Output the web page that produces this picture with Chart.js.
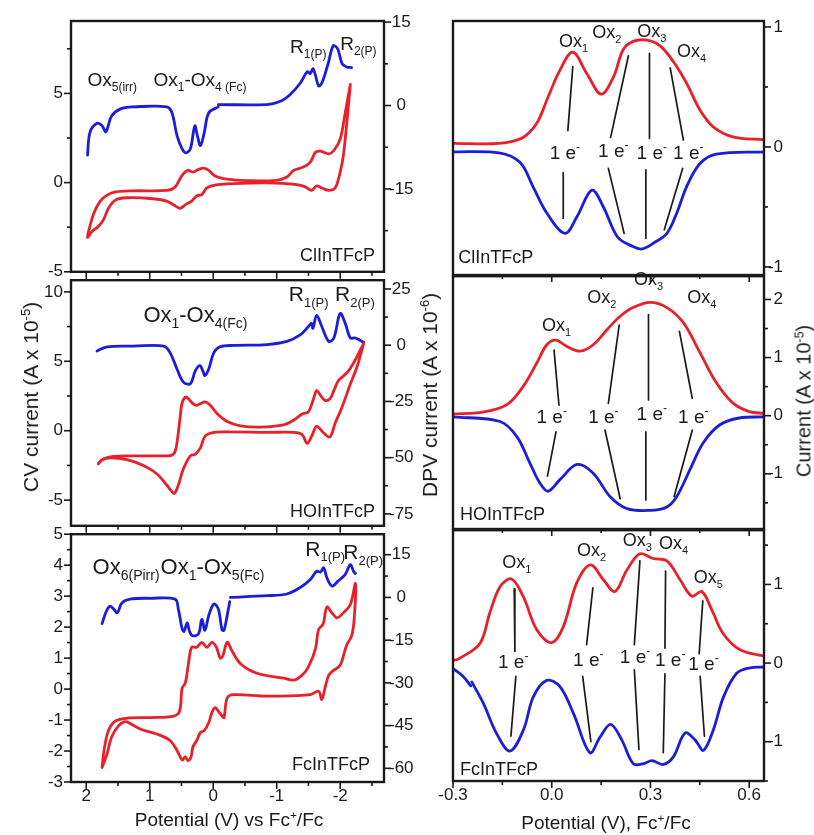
<!DOCTYPE html>
<html>
<head>
<meta charset="utf-8">
<script src="https://cdn.jsdelivr.net/npm/chart.js@4.4.0/dist/chart.umd.min.js"></script>
<style>
  body { margin: 0; background: #fff; }
  #fig { position: relative; width: 814px; height: 835px; overflow: hidden;
         font-family: 'Liberation Sans', Arial, sans-serif; color: #1a1a1a; }
  #fig canvas { position: absolute; }
  .title { position: absolute; white-space: nowrap; font-size: 21px; transform: translate(-50%, -50%); }
  .title.v { transform: translate(-50%, -50%) rotate(-90deg); }
  .title sup { font-size: 0.62em; vertical-align: 0.6em; line-height: 0; }
</style>
</head>
<body>
<div id="fig">
  <canvas id="cv1" width="432" height="290" style="left:0;top:0"></canvas>
  <canvas id="cv2" width="432" height="282" style="left:0;top:262px"></canvas>
  <canvas id="cv3" width="432" height="319" style="left:0;top:516px"></canvas>
  <canvas id="dp1" width="384" height="290" style="left:430px;top:0"></canvas>
  <canvas id="dp2" width="384" height="282" style="left:430px;top:262px"></canvas>
  <canvas id="dp3" width="384" height="319" style="left:430px;top:516px"></canvas>
  <div class="title v" style="left:31px;top:397px">CV current (A x 10<sup>-5</sup>)</div>
  <div class="title v" style="left:430px;top:395px">DPV current (A x 10<sup>-6</sup>)</div>
  <div class="title v" style="left:804px;top:401px;font-size:20px">Current (A x 10<sup>-5</sup>)</div>
  <div class="title" style="left:229px;top:820px;font-size:19px">Potential (V) vs Fc<sup>+</sup>/Fc</div>
  <div class="title" style="left:606px;top:823px;font-size:19px">Potential (V), Fc<sup>+</sup>/Fc</div>
</div>
<script>
/* Cyclic voltammetry (left) and DPV (right) for three porphyrins */

const FONT = "'Liberation Sans', Arial, sans-serif";
const RED  = '#e8202a';
const BLUE = '#1c1cdc';
const INK  = '#1a1a1a';

/* ── tick positions and labels ── */
const CV_X_TICKS  = [2, 1.5, 1, 0.5, 0, -0.5, -1, -1.5, -2, -2.5];
const CV_X_MAJOR  = [2, 1, 0, -1, -2];
const DPV_X_TICKS = [-0.3, -0.15, 0, 0.15, 0.3, 0.45, 0.6];
const DPV_X_MAJOR = [-0.3, 0, 0.3, 0.6];

const CL_CV_TICKS   = [-5, -2.5, 0, 2.5, 5, 7.5];
const CL_CV_MAJOR   = [-5, 0, 5];
const CL_DPVL_TICKS = [-22.5, -15, -7.5, 0, 7.5, 15];
const CL_DPVL_MAJOR = [-15, 0, 15];
const HO_CV_TICKS   = [-5, -2.5, 0, 2.5, 5, 7.5, 10];
const HO_CV_MAJOR   = [-5, 0, 5, 10];
const HO_DPVL_TICKS = [-75, -62.5, -50, -37.5, -25, -12.5, 0, 12.5, 25];
const HO_DPVL_MAJOR = [-75, -50, -25, 0, 25];
const FC_CV_TICKS   = [-3, -2.5, -2, -1.5, -1, -0.5, 0, 0.5, 1, 1.5, 2, 2.5, 3, 3.5, 4, 4.5, 5];
const FC_CV_MAJOR   = [-3, -2, -1, 0, 1, 2, 3, 4, 5];
const FC_DPVL_TICKS = [-60, -52.5, -45, -37.5, -30, -22.5, -15, -7.5, 0, 7.5, 15];
const FC_DPVL_MAJOR = [-60, -45, -30, -15, 0, 15];

const CL_DPV_TICKS = [-1, -0.5, 0, 0.5, 1];
const CL_DPV_MAJOR = [-1, 0, 1];
const HO_DPV_TICKS = [-1.5, -1, -0.5, 0, 0.5, 1, 1.5, 2];
const HO_DPV_MAJOR = [-1, 0, 1, 2];
const FC_DPV_TICKS = [-1.5, -1, -0.5, 0, 0.5, 1, 1.5];
const FC_DPV_MAJOR = [-1, 0, 1];

/* ── left column: [potential V, current] ── */
// ClInTFcP
const CL_CV = [[-2.16,5.5],[-2.10,3.19],[-2.05,1.52],[-2.00,0.59],[-1.92,-0.30],[-1.82,-0.43],[-1.71,-0.30],
  [-1.63,-0.19],[-1.55,-0.43],[-1.45,-0.24],[-1.32,-0.11],[-0.85,-0.02],[-0.32,-0.06],[-0.01,-0.15],[0.10,-0.30],
  [0.18,-0.67],[0.26,-0.74],[0.34,-1.04],[0.43,-1.22],[0.52,-1.44],[0.62,-1.26],[0.73,-1.04],[0.99,-0.89],
  [1.36,-0.85],[1.54,-0.98],[1.65,-1.44],[1.73,-2.09],[1.81,-2.46],[1.91,-2.74],[1.98,-3.07],[1.95,-2.56],
  [1.88,-1.72],[1.78,-1.04],[1.67,-0.70],[1.54,-0.52],[1.25,-0.46],[0.73,-0.44],[0.60,-0.24],[0.49,0.41],
  [0.40,0.69],[0.32,0.59],[0.23,0.74],[0.15,0.81],[0.07,0.69],[-0.03,0.37],[-0.22,0.19],[-0.53,0.11],
  [-1.00,0.13],[-1.16,0.31],[-1.27,0.69],[-1.42,0.87],[-1.53,1.15],[-1.61,1.70],[-1.69,1.76],[-1.82,1.61],
  [-1.90,1.80],[-2.00,2.44],[-2.08,3.93],[-2.16,5.5]];
const CL_DPV_OX = [[1.98,-8.9],[1.94,-4.8],[1.83,-3.2],[1.75,-3.65],[1.69,-4.7],[1.60,-1.9],[1.46,-0.6],
  [1.25,-0.24],[0.73,-0.24],[0.65,-1.3],[0.57,-5.4],[0.49,-7.8],[0.43,-8.5],[0.36,-7.8],[0.29,-3.65],
  [0.25,-5.4],[0.20,-7.2],[0.14,-4.8],[0.07,-1.3],[-0.08,-0.24]];
const CL_DPV_RED = [[-0.08,0.18],[-0.85,0.18],[-1.06,0.76],[-1.21,1.94],[-1.37,4.0],[-1.48,6.06],[-1.53,5.76],
  [-1.57,6.65],[-1.61,5.47],[-1.66,3.53],[-1.71,4.0],[-1.81,7.53],[-1.89,10.76],[-1.96,10.18],[-2.03,7.53],
  [-2.10,6.94],[-2.18,6.82]];

// HOInTFcP
const HO_CV = [[-2.37,6.29],[-2.24,5.12],[-2.13,4.30],[-2.05,3.94],[-1.97,3.59],[-1.90,2.89],[-1.84,2.30],
  [-1.76,2.18],[-1.69,2.54],[-1.63,2.89],[-1.58,2.30],[-1.50,1.36],[-1.40,1.20],[-1.27,0.77],[-1.11,0.42],
  [-0.74,0.26],[-0.43,0.35],[-0.22,0.66],[-0.06,1.24],[0.05,1.85],[0.13,2.07],[0.20,1.95],[0.26,1.83],
  [0.32,1.95],[0.40,2.35],[0.44,2.42],[0.49,2.0],[0.52,1.01],[0.56,-0.5],[0.60,-1.5],[0.66,-1.78],[0.83,-1.81],
  [1.25,-1.81],[1.57,-1.85],[1.73,-2.04],[1.81,-2.39],[1.75,-2.09],[1.62,-1.95],[1.36,-2.09],[1.10,-2.51],
  [0.89,-3.10],[0.73,-3.92],[0.65,-4.39],[0.61,-4.51],[0.55,-3.92],[0.47,-2.75],[0.36,-1.81],[0.28,-1.69],
  [0.20,-1.22],[0.13,-0.40],[0.02,-0.16],[-0.16,-0.09],[-0.85,-0.12],[-1.27,-0.12],[-1.40,-0.28],[-1.48,-0.92],
  [-1.55,-0.40],[-1.63,0.31],[-1.74,-0.16],[-1.84,-0.45],[-1.92,0.54],[-2.03,1.71],[-2.16,3.36],[-2.26,4.53],
  [-2.37,6.29]];
const HO_DPV = [[1.83,-2.6],[1.67,-0.7],[1.25,-0.4],[0.78,-0.4],[0.68,-3.3],[0.57,-10.6],[0.47,-16.4],
  [0.36,-17.1],[0.28,-11.3],[0.21,-9.1],[0.16,-11.7],[0.13,-13.5],[0.07,-10.6],[-0.01,-3.3],[-0.11,-0.7],
  [-0.32,-0.1],[-0.85,0.3],[-1.16,1.7],[-1.37,4.6],[-1.50,8.3],[-1.55,9.7],[-1.57,7.5],[-1.63,13.3],
  [-1.71,8.3],[-1.82,1.7],[-1.90,3.2],[-2.00,14.1],[-2.08,9.7],[-2.16,3.2],[-2.24,3.2],[-2.37,1.3]];

// FcInTFcP
const FC_CV = [[1.75,-2.53],[1.72,-1.98],[1.65,-1.34],[1.54,-1.03],[1.36,-0.94],[0.99,-0.92],[0.62,-0.87],
  [0.53,-0.71],[0.49,0.03],[0.44,0.19],[0.39,0.82],[0.34,1.35],[0.26,1.35],[0.18,1.51],[0.10,1.35],[0.02,1.51],
  [-0.05,1.35],[-0.11,1.00],[-0.15,1.07],[-0.22,1.51],[-0.29,1.25],[-0.43,0.82],[-0.69,0.51],[-1.11,0.35],
  [-1.27,0.29],[-1.40,0.45],[-1.50,0.72],[-1.61,1.30],[-1.66,1.93],[-1.73,2.09],[-1.79,2.65],[-1.87,2.46],
  [-1.95,2.30],[-2.05,2.46],[-2.16,2.73],[-2.24,3.41],[-2.22,2.25],[-2.18,1.72],[-2.10,1.41],[-2.00,0.77],
  [-1.90,0.61],[-1.82,0.45],[-1.76,0.03],[-1.71,-0.34],[-1.66,-0.07],[-1.53,-0.18],[-0.85,-0.23],[-0.32,-0.18],
  [-0.22,-0.29],[-0.17,-0.92],[-0.14,-0.87],[-0.08,-0.71],[-0.03,-0.60],[0.02,-0.76],[0.07,-1.08],[0.14,-1.34],
  [0.20,-1.40],[0.26,-1.66],[0.32,-1.87],[0.35,-2.19],[0.40,-2.31],[0.44,-2.19],[0.49,-2.29],[0.57,-1.98],
  [0.68,-1.66],[0.89,-1.45],[1.15,-1.29],[1.31,-1.11],[1.39,-1.05],[1.49,-1.18],[1.60,-1.55],[1.67,-2.08],
  [1.75,-2.53]];
const FC_DPV_OX = [[1.75,-9.2],[1.69,-5.2],[1.63,-3.1],[1.57,-4.0],[1.51,-5.4],[1.44,-2.0],[1.31,-0.6],
  [0.99,-0.3],[0.60,-0.6],[0.55,-4.0],[0.49,-11.0],[0.46,-11.9],[0.41,-8.9],[0.37,-12.1],[0.32,-13.5],
  [0.23,-12.7],[0.18,-7.7],[0.13,-11.5],[0.07,-6.3],[-0.01,-2.3],[-0.08,-4.0],[-0.14,-11.5],[-0.17,-11.5],
  [-0.22,-6.3],[-0.26,-1.5]];
const FC_DPV_RED = [[-0.27,0.0],[-0.85,0.6],[-1.16,1.2],[-1.37,3.5],[-1.53,6.3],[-1.63,9.2],[-1.69,8.9],
  [-1.74,10.4],[-1.79,6.9],[-1.87,4.0],[-1.97,5.8],[-2.08,8.1],[-2.16,11.5],[-2.21,9.2],[-2.24,8.4]];

/* ── right column DPV: [potential V, current x1e-5] ── */
const CL_FWD = [[-0.30,0.03],[-0.16,0.03],[-0.09,0.075],[-0.045,0.2],[-0.015,0.39],[0.025,0.64],[0.064,0.79],
  [0.107,0.61],[0.15,0.44],[0.187,0.58],[0.217,0.81],[0.247,0.88],[0.29,0.89],[0.33,0.84],[0.37,0.71],
  [0.41,0.53],[0.45,0.31],[0.49,0.17],[0.55,0.085],[0.645,0.06]];
const CL_REV = [[-0.30,-0.04],[-0.16,-0.05],[-0.096,-0.13],[-0.057,-0.33],[-0.015,-0.55],[0.04,-0.72],
  [0.077,-0.58],[0.122,-0.36],[0.157,-0.5],[0.2,-0.75],[0.247,-0.83],[0.274,-0.85],[0.31,-0.8],[0.35,-0.72],
  [0.38,-0.55],[0.41,-0.33],[0.45,-0.14],[0.5,-0.06],[0.645,-0.04]];
const HO_FWD = [[-0.30,0.03],[-0.21,0.06],[-0.136,0.19],[-0.087,0.5],[-0.045,0.91],[-0.015,1.22],[0.013,1.3],
  [0.046,1.19],[0.086,1.11],[0.126,1.22],[0.168,1.48],[0.208,1.71],[0.247,1.86],[0.299,1.95],[0.35,1.86],
  [0.4,1.6],[0.45,1.09],[0.5,0.57],[0.55,0.22],[0.6,0.07],[0.645,0.04]];
const HO_REV = [[-0.30,-0.02],[-0.157,-0.1],[-0.106,-0.36],[-0.066,-0.82],[-0.036,-1.16],[-0.011,-1.3],
  [0.025,-1.1],[0.077,-0.84],[0.126,-0.99],[0.177,-1.39],[0.229,-1.6],[0.299,-1.63],[0.35,-1.57],[0.38,-1.39],
  [0.42,-0.93],[0.46,-0.47],[0.51,-0.16],[0.57,-0.04],[0.645,-0.02]];
const FC_FWD = [[-0.30,0.03],[-0.28,0.06],[-0.218,0.25],[-0.188,0.64],[-0.157,0.97],[-0.122,1.07],[-0.087,0.85],
  [-0.045,0.42],[0.0,0.26],[0.035,0.46],[0.076,1.02],[0.118,1.25],[0.157,1.06],[0.192,0.91],[0.228,1.18],
  [0.268,1.39],[0.308,1.33],[0.35,1.3],[0.39,1.06],[0.426,0.85],[0.456,0.91],[0.486,0.68],[0.52,0.38],
  [0.572,0.17],[0.645,0.09]];
const FC_REV_A = [[-0.30,-0.07],[-0.269,-0.17],[-0.246,-0.29]];
const FC_REV_B = [[-0.243,-0.24],[-0.208,-0.51],[-0.167,-0.9],[-0.127,-1.12],[-0.086,-0.85],[-0.056,-0.43],
  [-0.015,-0.22],[0.025,-0.3],[0.066,-0.64],[0.116,-1.14],[0.147,-0.94],[0.179,-0.78],[0.213,-0.98],
  [0.248,-1.28],[0.279,-1.28],[0.304,-1.24],[0.339,-1.29],[0.37,-1.19],[0.405,-0.89],[0.436,-0.98],
  [0.461,-1.11],[0.491,-0.85],[0.522,-0.43],[0.562,-0.13],[0.603,-0.06],[0.645,-0.05]];

/* ── 1 e- guide sticks (pairs of end points) ── */
const CL_STICKS = [[[0.064,0.67],[0.049,0.136]],[[0.233,0.76],[0.179,0.08]],[[0.297,0.78],[0.297,0.072]],
  [[0.36,0.66],[0.40,0.058]],[[0.035,-0.214],[0.035,-0.594]],[[0.172,-0.178],[0.22,-0.72]],
  [[0.286,-0.19],[0.286,-0.76]],[[0.398,-0.178],[0.342,-0.69]]];
const HO_STICKS = [[[0.007,1.13],[0.022,0.18]],[[0.205,1.56],[0.172,0.21]],[[0.294,1.74],[0.294,0.27]],
  [[0.388,1.45],[0.427,0.30]],[[0.013,-0.28],[-0.013,-1.04]],[[0.162,-0.25],[0.208,-1.43]],
  [[0.286,-0.28],[0.286,-1.45]],[[0.427,-0.25],[0.372,-1.39]]];
const FC_STICKS = [[[-0.114,0.945],[-0.112,0.149]],[[0.125,0.957],[0.106,0.234]],[[0.268,1.30],[0.251,0.234]],
  [[0.346,1.17],[0.344,0.19]],[[0.459,0.79],[0.448,0.12]],[[-0.109,-0.17],[-0.124,-0.93]],
  [[0.094,-0.17],[0.119,-1.0]],[[0.251,-0.085],[0.265,-1.10]],[[0.344,-0.136],[0.339,-1.14]],
  [[0.451,-0.17],[0.464,-0.93]]];

/* ── helpers ── */
function drawRich(ctx, x, y, parts, size, align) {
  const segs = parts.map(([t, k]) => {
    const s = k === 'n' ? size : Math.round(size * 0.62);
    ctx.font = `${s}px ${FONT}`;
    return { t, k, s, w: ctx.measureText(t).width };
  });
  const total = segs.reduce((a, s) => a + s.w, 0);
  let cx = align === 'center' ? x - total / 2 : align === 'right' ? x - total : x;
  ctx.textAlign = 'left';
  ctx.textBaseline = 'alphabetic';
  segs.forEach(s => {
    ctx.font = `${s.s}px ${FONT}`;
    const dy = s.k === 'sub' ? size * 0.28 : s.k === 'sup' ? -size * 0.42 : 0;
    ctx.fillText(s.t, cx, y + dy);
    cx += s.w;
  });
}

const framePlugin = {
  id: 'frame',
  afterDatasetsDraw(chart, _args, opts) {
    const { ctx, chartArea: a } = chart;
    ctx.save();
    ctx.strokeStyle = INK;
    ctx.lineWidth = 1.6;
    Object.values(chart.scales).forEach(s => {
      const majors = opts.majors[s.id] || [];
      s.ticks.forEach(t => {
        const len = majors.includes(t.value) ? 7 : 4;
        const p = s.getPixelForValue(t.value);
        ctx.beginPath();
        if (s.isHorizontal()) { ctx.moveTo(p, a.bottom); ctx.lineTo(p, a.bottom + len); }
        else if (s.position === 'left') { ctx.moveTo(a.left, p); ctx.lineTo(a.left - len, p); }
        else { ctx.moveTo(a.right, p); ctx.lineTo(a.right + len, p); }
        ctx.stroke();
      });
    });
    ctx.lineWidth = 2.4;
    ctx.strokeRect(a.left, a.top, a.right - a.left, a.bottom - a.top);
    ctx.fillStyle = INK;
    const xs = chart.scales.x, ys = chart.scales.y;
    (opts.notes || []).forEach(n =>
      drawRich(ctx, xs.getPixelForValue(n.x), ys.getPixelForValue(n.y), n.parts, n.size, n.align));
    ctx.restore();
  },
};

function axis(o) {
  return {
    type: 'linear',
    position: o.position,
    min: o.min,
    max: o.max,
    reverse: !!o.reverse,
    grid: { display: false, drawTicks: false },
    border: { display: false },
    afterBuildTicks: s => { s.ticks = o.ticks.map(v => ({ value: v })); },
    afterFit: s => { if (s.isHorizontal()) s.height = o.size; else s.width = o.size; },
    ticks: {
      autoSkip: false,
      maxRotation: 0,
      padding: o.pad,
      crossAlign: o.cross || 'near',
      color: INK,
      font: { family: FONT, size: 17 },
      callback: v => (!o.hide && o.majors.includes(v)) ? (o.fmt ? o.fmt(v) : String(v)) : '',
    },
  };
}

const curve = (arr, color, yAxisID = 'y') => ({
  data: arr.map(([x, y]) => ({ x, y })), borderColor: color, borderWidth: 2.8, yAxisID, tension: 0.35,
});
const stick = seg => ({ data: seg.map(([x, y]) => ({ x, y })), borderColor: INK, borderWidth: 1.7, tension: 0 });

function makeChart(id, datasets, scales, pad, majors, notes) {
  return new Chart(document.getElementById(id), {
    type: 'line',
    data: { datasets },
    options: {
      responsive: false,
      animation: false,
      events: [],
      layout: { padding: pad },
      elements: { point: { radius: 0 }, line: { borderCapStyle: 'round', borderJoinStyle: 'round' } },
      plugins: { legend: { display: false }, tooltip: { enabled: false }, frame: { majors, notes } },
      scales,
    },
    plugins: [framePlugin],
  });
}

const ox = (sub) => [['Ox', 'n'], [sub, 'sub']];
const oneE = [['1 e', 'n'], ['-', 'sup']];

/* ── CV panels ── */
function cvChart(id, o) {
  const scales = {
    x: axis({ position: 'bottom', min: -2.69, max: 2.24, reverse: true, ticks: CV_X_TICKS, majors: CV_X_MAJOR,
      size: o.xSize, pad: 4, hide: !o.showX }),
    y: axis({ position: 'left', min: o.yMin, max: o.yMax, ticks: o.yTicks, majors: o.yMajor, size: 71, pad: 8 }),
    y2: axis({ position: 'right', min: o.y2Min, max: o.y2Max, ticks: o.y2Ticks, majors: o.y2Major, size: 48,
      pad: 5, cross: 'center' }),
  };
  const datasets = [curve(o.cv, RED, 'y')].concat(o.dpv.map(d => curve(d, BLUE, 'y2')));
  makeChart(id, datasets, scales, { top: o.top, left: 0, right: 0, bottom: 0 },
    { x: CV_X_MAJOR, y: o.yMajor, y2: o.y2Major }, o.notes);
}

cvChart('cv1', {
  top: 21, xSize: 15, showX: false,
  yMin: -5, yMax: 9.06, yTicks: CL_CV_TICKS, yMajor: CL_CV_MAJOR,
  y2Min: -29.9, y2Max: 15.2, y2Ticks: CL_DPVL_TICKS, y2Major: CL_DPVL_MAJOR,
  cv: CL_CV, dpv: [CL_DPV_OX, CL_DPV_RED],
  notes: [
    { x: 1.98, y: 5.41, parts: ox('5(irr)'), size: 19, align: 'left' },
    { x: 0.94, y: 5.41, parts: [['Ox', 'n'], ['1', 'sub'], ['-Ox', 'n'], ['4 (Fc)', 'sub']], size: 19, align: 'left' },
    { x: -1.21, y: 7.26, parts: [['R', 'n'], ['1(P)', 'sub']], size: 19, align: 'left' },
    { x: -2.0, y: 7.44, parts: [['R', 'n'], ['2(P)', 'sub']], size: 19, align: 'left' },
    { x: -2.55, y: -4.41, parts: [['ClInTFcP', 'n']], size: 18, align: 'right' },
  ],
});

cvChart('cv2', {
  top: 13, xSize: 15, showX: false,
  yMin: -6.85, yMax: 10.84, yTicks: HO_CV_TICKS, yMajor: HO_CV_MAJOR,
  y2Min: -80.3, y2Max: 28.9, y2Ticks: HO_DPVL_TICKS, y2Major: HO_DPVL_MAJOR,
  cv: HO_CV, dpv: [HO_DPV],
  notes: [
    { x: 1.10, y: 7.82, parts: [['Ox', 'n'], ['1', 'sub'], ['-Ox', 'n'], ['4(Fc)', 'sub']], size: 22, align: 'left' },
    { x: -1.19, y: 9.34, parts: [['R', 'n'], ['1(P)', 'sub']], size: 21, align: 'left' },
    { x: -1.92, y: 9.34, parts: [['R', 'n'], ['2(P)', 'sub']], size: 21, align: 'left' },
    { x: -2.55, y: -6.22, parts: [['HOInTFcP', 'n']], size: 18, align: 'right' },
  ],
});

cvChart('cv3', {
  top: 13, xSize: 53, showX: true,
  yMin: -3, yMax: 5, yTicks: FC_CV_TICKS, yMajor: FC_CV_MAJOR,
  y2Min: -64.8, y2Max: 22.2, y2Ticks: FC_DPVL_TICKS, y2Major: FC_DPVL_MAJOR,
  cv: FC_CV, dpv: [FC_DPV_OX, FC_DPV_RED],
  notes: [
    { x: 1.90, y: 3.73, parts: ox('6(Pirr)'), size: 22, align: 'left' },
    { x: 0.83, y: 3.73, parts: [['Ox', 'n'], ['1', 'sub'], ['-Ox', 'n'], ['5(Fc)', 'sub']], size: 22, align: 'left' },
    { x: -1.45, y: 4.31, parts: [['R', 'n'], ['1(P)', 'sub']], size: 21, align: 'left' },
    { x: -2.05, y: 4.21, parts: [['R', 'n'], ['2(P)', 'sub']], size: 21, align: 'left' },
    { x: -2.47, y: -2.61, parts: [['FcInTFcP', 'n']], size: 18, align: 'right' },
  ],
});

/* ── DPV panels ── */
function dpvChart(id, o) {
  const scales = {
    x: axis({ position: 'bottom', min: -0.3, max: 0.645, ticks: DPV_X_TICKS, majors: DPV_X_MAJOR,
      size: o.xSize, pad: 4, hide: !o.showX, fmt: v => v.toFixed(1) }),
    y: axis({ position: 'right', min: o.yMin, max: o.yMax, ticks: o.yTicks, majors: o.yMajor, size: 19,
      pad: 4, cross: 'far' }),
  };
  const datasets = o.sticks.map(stick).concat(o.fwd.map(d => curve(d, RED)), o.rev.map(d => curve(d, BLUE)));
  makeChart(id, datasets, scales, { top: o.top, left: 23, right: 31, bottom: 0 },
    { x: DPV_X_MAJOR, y: o.yMajor }, o.notes);
}

dpvChart('dp1', {
  top: 21, xSize: 15, showX: false,
  yMin: -1.067, yMax: 1.05, yTicks: CL_DPV_TICKS, yMajor: CL_DPV_MAJOR,
  fwd: [CL_FWD], rev: [CL_REV], sticks: CL_STICKS,
  notes: [
    { x: 0.066, y: 0.835, parts: ox('1'), size: 18, align: 'center' },
    { x: 0.167, y: 0.91, parts: ox('2'), size: 18, align: 'center' },
    { x: 0.304, y: 0.92, parts: ox('3'), size: 18, align: 'center' },
    { x: 0.425, y: 0.75, parts: ox('4'), size: 18, align: 'center' },
    { x: 0.04, y: -0.10, parts: oneE, size: 19, align: 'center' },
    { x: 0.187, y: -0.08, parts: oneE, size: 19, align: 'center' },
    { x: 0.304, y: -0.10, parts: oneE, size: 19, align: 'center' },
    { x: 0.415, y: -0.10, parts: oneE, size: 19, align: 'center' },
    { x: -0.284, y: -0.97, parts: [['ClInTFcP', 'n']], size: 18, align: 'left' },
  ],
});

dpvChart('dp2', {
  top: 13, xSize: 15, showX: false,
  yMin: -1.95, yMax: 2.4, yTicks: HO_DPV_TICKS, yMajor: HO_DPV_MAJOR,
  fwd: [HO_FWD], rev: [HO_REV], sticks: HO_STICKS,
  notes: [
    { x: 0.015, y: 1.45, parts: ox('1'), size: 18, align: 'center' },
    { x: 0.152, y: 1.94, parts: ox('2'), size: 18, align: 'center' },
    { x: 0.294, y: 2.25, parts: ox('3'), size: 18, align: 'center' },
    { x: 0.456, y: 1.94, parts: ox('4'), size: 18, align: 'center' },
    { x: 0.0, y: -0.13, parts: oneE, size: 19, align: 'center' },
    { x: 0.157, y: -0.13, parts: oneE, size: 19, align: 'center' },
    { x: 0.304, y: -0.075, parts: oneE, size: 19, align: 'center' },
    { x: 0.43, y: -0.13, parts: oneE, size: 19, align: 'center' },
    { x: -0.279, y: -1.8, parts: [['HOInTFcP', 'n']], size: 18, align: 'left' },
  ],
});

dpvChart('dp3', {
  top: 13, xSize: 54, showX: true,
  yMin: -1.5, yMax: 1.69, yTicks: FC_DPV_TICKS, yMajor: FC_DPV_MAJOR,
  fwd: [FC_FWD], rev: [FC_REV_A, FC_REV_B], sticks: FC_STICKS,
  notes: [
    { x: -0.106, y: 1.21, parts: ox('1'), size: 18, align: 'center' },
    { x: 0.121, y: 1.36, parts: ox('2'), size: 18, align: 'center' },
    { x: 0.26, y: 1.49, parts: ox('3'), size: 18, align: 'center' },
    { x: 0.37, y: 1.45, parts: ox('4'), size: 18, align: 'center' },
    { x: 0.476, y: 1.02, parts: ox('5'), size: 18, align: 'center' },
    { x: -0.117, y: -0.064, parts: oneE, size: 19, align: 'center' },
    { x: 0.111, y: -0.04, parts: oneE, size: 19, align: 'center' },
    { x: 0.253, y: 0.0, parts: oneE, size: 19, align: 'center' },
    { x: 0.36, y: -0.04, parts: oneE, size: 19, align: 'center' },
    { x: 0.461, y: -0.085, parts: oneE, size: 19, align: 'center' },
    { x: -0.279, y: -1.43, parts: [['FcInTFcP', 'n']], size: 18, align: 'left' },
  ],
});
</script>
</body>
</html>
